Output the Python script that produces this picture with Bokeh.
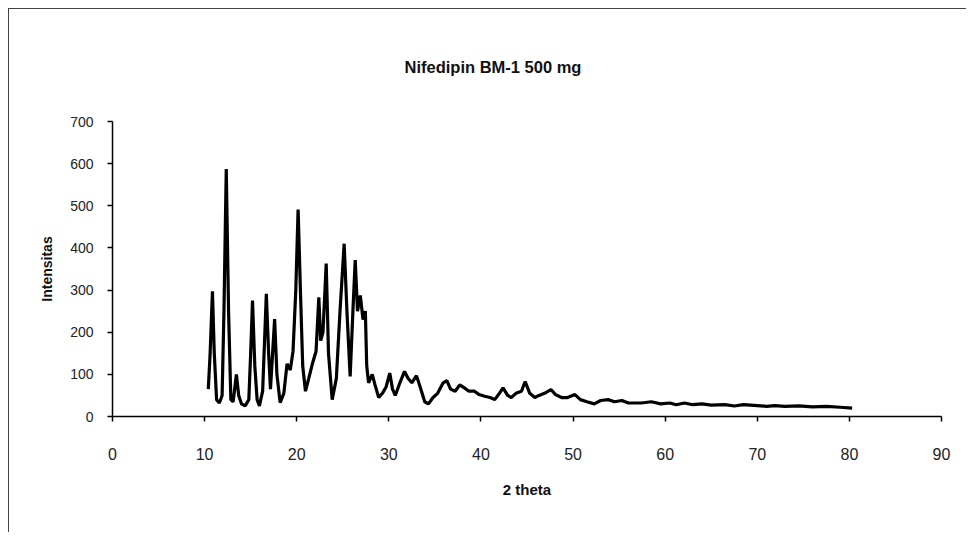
from bokeh.plotting import figure
from bokeh.models import Range1d, FixedTicker
from bokeh.embed import file_html
from bokeh.resources import INLINE

# 2-theta positions and intensities
two_theta = [
    10.4, 10.6, 10.85, 11.05, 11.3, 11.6, 11.9, 12.1, 12.35, 12.6, 12.85, 13.1, 13.45, 13.7,
    14.0, 14.4, 14.8, 15.0, 15.2, 15.45, 15.7, 15.95, 16.3, 16.7, 16.95, 17.15, 17.6, 17.85,
    18.2, 18.6, 18.95, 19.3, 19.6, 19.9, 20.15, 20.4, 20.65, 20.95, 21.3, 21.7, 22.1, 22.4,
    22.6, 22.85, 23.2, 23.45, 23.85, 24.3, 24.7, 25.15, 25.45, 25.8, 26.1, 26.35, 26.6, 26.9,
    27.2, 27.45, 27.6, 27.8, 28.2, 28.5, 28.9, 29.3, 29.7, 30.1, 30.4, 30.7, 31.2, 31.7,
    32.1, 32.5, 33.0, 33.4, 33.9, 34.3, 34.8, 35.3, 35.9, 36.3, 36.7, 37.2, 37.7, 38.2,
    38.7, 39.3, 39.8, 40.4, 41.0, 41.5, 42.0, 42.4, 42.9, 43.3, 43.8, 44.4, 44.8, 45.3,
    45.85, 46.3, 46.9, 47.6, 48.1, 48.75, 49.4, 50.2, 50.8, 51.5, 52.3, 53.0, 53.8, 54.5,
    55.3, 56.0, 57.4, 58.5, 59.5, 60.5, 61.2, 62.1, 63.0, 64.0, 65.0, 66.5, 67.5, 68.5,
    70.0, 71.0, 71.9, 73.0, 74.5, 76.0, 77.5, 79.0, 80.3,
]
intensity = [
    65, 150, 297, 150, 40, 32, 50, 250, 587, 250, 40, 35, 100, 50,
    30, 25, 40, 150, 275, 120, 40, 25, 60, 291, 150, 65, 231, 100,
    33, 55, 125, 110, 155, 300, 491, 300, 120, 60, 90, 125, 155, 283,
    180, 200, 363, 150, 40, 90, 250, 410, 250, 95, 250, 371, 250, 287,
    230, 250, 120, 80, 100, 75, 45, 55, 70, 103, 65, 50, 80, 107,
    90, 80, 97, 70, 35, 30, 45, 55, 80, 85, 65, 60, 75, 68,
    60, 60, 52, 48, 45, 40, 55, 68, 50, 45, 55, 60, 83, 55,
    45, 50, 55, 64, 52, 45, 45, 52, 40, 35, 30, 38, 40, 35,
    38, 32, 32, 35, 30, 32, 28, 32, 28, 30, 27, 28, 25, 28,
    26, 24, 26, 24, 25, 23, 24, 22, 20,
]
x_ticks = [0, 10, 20, 30, 40, 50, 60, 70, 80, 90]
y_ticks = [0, 100, 200, 300, 400, 500, 600, 700]
title_text = "Nifedipin BM-1 500 mg"

FONT = "'Liberation Sans', Arial, sans-serif"

p = figure(
    width=958, height=524,
    output_backend="svg", toolbar_location=None,
    x_range=Range1d(0, 90), y_range=Range1d(0, 700),
    min_border_left=103, min_border_right=26, min_border_top=112, min_border_bottom=117,
)
p.styles = {"border-left": "1px solid #444", "border-top": "1px solid #444",
            "margin-left": "8px", "margin-top": "8px"}

p.line(two_theta, intensity, line_color="black", line_width=3.2)

p.title.text = title_text
p.title.align = "left"
p.title.offset = 292
p.title.standoff = 91
p.title.text_font = FONT
p.title.text_font_size = "16.5px"
p.title.text_font_style = "bold"
p.title.text_color = "#111111"

p.outline_line_color = None
p.grid.visible = False
p.background_fill_color = "white"
p.border_fill_color = "white"

for ax in (p.xaxis[0], p.yaxis[0]):
    ax.axis_line_color = "black"
    ax.axis_line_width = 1.5
    ax.major_tick_line_color = "black"
    ax.major_tick_line_width = 1.5
    ax.major_tick_in = 0
    ax.major_tick_out = 5
    ax.minor_tick_line_color = None
    ax.major_label_text_font = FONT
    ax.major_label_text_color = "#222222"
    ax.axis_label_text_font = FONT
    ax.axis_label_text_font_style = "bold"
    ax.axis_label_text_color = "#111111"

p.xaxis.ticker = FixedTicker(ticks=x_ticks)
p.yaxis.ticker = FixedTicker(ticks=y_ticks)
p.xaxis.axis_label = "2 theta"
p.yaxis.axis_label = "Intensitas"
p.xaxis.major_label_text_font_size = "16px"
p.yaxis.major_label_text_font_size = "14px"
p.xaxis.axis_label_text_font_size = "15px"
p.yaxis.axis_label_text_font_size = "14px"
p.xaxis.major_label_standoff = 26
p.yaxis.major_label_standoff = 14
p.xaxis.axis_label_standoff = 18
p.yaxis.axis_label_standoff = 12

open("out.html", "w").write(file_html(p, INLINE))
